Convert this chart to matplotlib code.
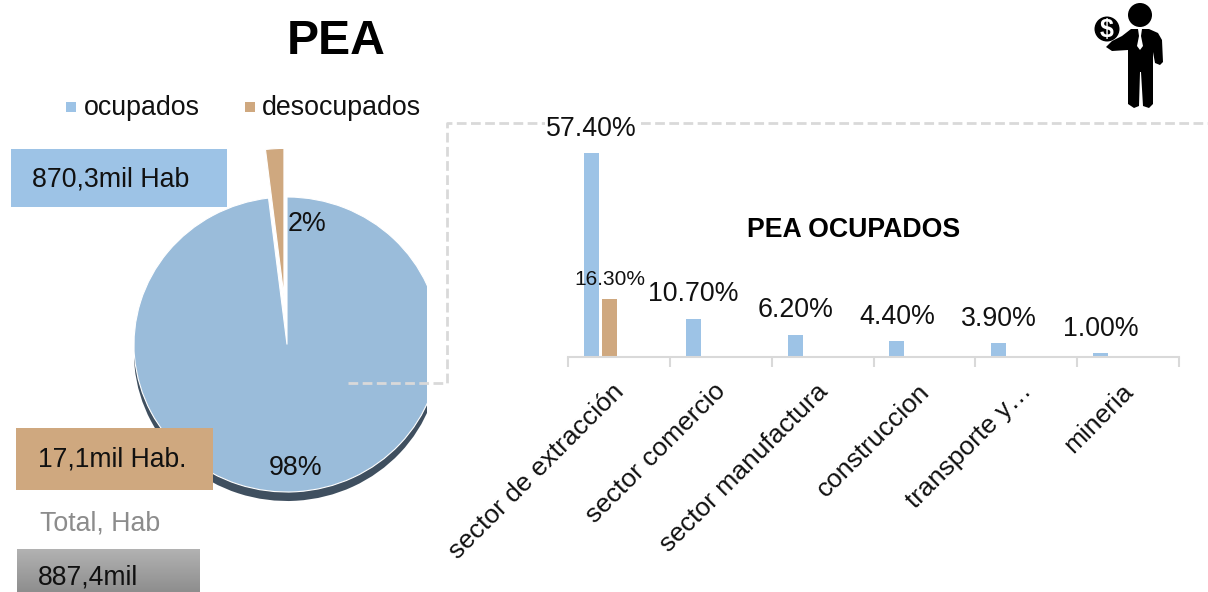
import numpy as np
import matplotlib
matplotlib.use('Agg')
import matplotlib.pyplot as plt
from matplotlib.colors import LinearSegmentedColormap
from matplotlib.patches import Circle, Polygon, Rectangle
from matplotlib.transforms import ScaledTranslation

plt.rcParams['font.family'] = ['Liberation Sans', 'DejaVu Sans']

# chart values
pie_names = ['ocupados', 'desocupados']
pie_values = [870.3, 17.1]
pie_labels = ['98%', '2%']

sectors = ['sector de extracción', 'sector comercio', 'sector manufactura',
           'construccion', 'transporte y…', 'mineria']
ocupados_pct = [57.4, 10.7, 6.2, 4.4, 3.9, 1.0]
desocupados_sector = [0]
desocupados_pct = [16.3]

BLUE = '#9dc3e6'
PIE_BLUE = '#9abcda'
TAN = '#cfa87f'
INK = '#111111'
WIDTH, HEIGHT = 1208, 592

fig = plt.figure(figsize=(WIDTH / 100, HEIGHT / 100), dpi=100, facecolor='white')


def px_axes(left, top, right, bottom):
    """Axes placed by pixel box (y measured from the top of the image)."""
    return fig.add_axes([left / WIDTH, 1 - bottom / HEIGHT,
                         (right - left) / WIDTH, (bottom - top) / HEIGHT])


# Pie, clipped on the right by its axes
ax_pie = px_axes(100, 140, 427, 510)
rx, ry = 153, 147.5
cx, cy = 287, 344.5
ax_pie.pie(pie_values, colors=['#3f4f5f', 'none'], explode=[0, 0.33], startangle=90,
           counterclock=False, center=(0, -9 / ry), frame=False,
           wedgeprops={'clip_on': True})
ax_pie.pie(pie_values, colors=[PIE_BLUE, TAN], explode=[0, 0.33], startangle=90,
           counterclock=False, frame=False,
           wedgeprops={'edgecolor': 'white', 'linewidth': 0.8, 'clip_on': True})
ax_pie.set_aspect('auto')
ax_pie.set_xlim((100 - cx) / rx, (427 - cx) / rx)
ax_pie.set_ylim((cy - 510) / ry, (cy - 140) / ry)
ax_pie.axis('off')

# Bars
ax_bar = px_axes(568, 140, 1179, 357)
ax_bar.set_zorder(6)
x = np.arange(len(sectors))
ax_bar.bar(x - 0.27, ocupados_pct, 0.147, color=BLUE)
ax_bar.bar(np.array(desocupados_sector) - 0.09, desocupados_pct, 0.147, color=TAN)
ax_bar.set_xlim(-0.5, 5.5)
ax_bar.set_ylim(0, 61.1)
ax_bar.patch.set_visible(False)
for side in ['top', 'left', 'right']:
    ax_bar.spines[side].set_visible(False)
ax_bar.spines['bottom'].set_color('#d9d9d9')
ax_bar.spines['bottom'].set_linewidth(1.5)
ax_bar.set_yticks([])
ax_bar.set_xticks(x)
ax_bar.set_xticklabels(sectors, rotation=45, ha='right', va='top',
                       rotation_mode='anchor', fontsize=19, color=INK)
ax_bar.tick_params(axis='x', which='major', length=0, pad=16)
shift = ScaledTranslation(-7 / 100, 0, fig.dpi_scale_trans)
for label in ax_bar.get_xticklabels():
    label.set_transform(label.get_transform() + shift)
ax_bar.set_xticks(np.arange(len(sectors) + 1) - 0.5, minor=True)
ax_bar.tick_params(axis='x', which='minor', length=7, width=1.5, color='#d9d9d9')

for xi, val in zip(x, ocupados_pct):
    # white backing interrupts the connector line behind the top label
    ax_bar.annotate(f'{val:.2f}%', (xi - 0.27, val), xytext=(0, 8.3),
                    textcoords='offset points', ha='center', va='bottom',
                    fontsize=19.3, color=INK, annotation_clip=False, zorder=6,
                    bbox={'facecolor': 'white', 'edgecolor': 'none', 'pad': 0.5})
for xi, val in zip(desocupados_sector, desocupados_pct):
    ax_bar.annotate(f'{val:.2f}%', (xi - 0.09, val), xytext=(0, 7.5),
                    textcoords='offset points', ha='center', va='bottom',
                    fontsize=15, color=INK, annotation_clip=False, zorder=6)

# Overlay in image pixels: title, legend, boxes, connector and icon
top = fig.add_axes([0, 0, 1, 1], zorder=5)
top.set_xlim(0, WIDTH)
top.set_ylim(HEIGHT, 0)
top.axis('off')

top.plot([348, 447, 447, WIDTH], [383, 383, 123, 123], color='#d9d9d9', lw=2,
         ls=(0, (3.5, 1.6)))

top.text(336, 41, 'PEA', fontsize=34.7, fontweight='bold', ha='center', va='center',
         color='black')
top.text(854, 230, 'PEA OCUPADOS', fontsize=19.2, fontweight='bold', ha='center',
         va='center', color='black')

# legend
top.add_patch(Rectangle((66, 102), 10, 10, color=BLUE, lw=0))
top.text(84, 108, pie_names[0], fontsize=19.3, va='center', color=INK)
top.add_patch(Rectangle((245, 102), 10, 10, color=TAN, lw=0))
top.text(262, 108, pie_names[1], fontsize=19.3, va='center', color=INK)

# pie labels
top.text(307, 224, pie_labels[1], fontsize=19.3, ha='center', va='center', color=INK)
top.text(296, 468, pie_labels[0], fontsize=19.3, ha='center', va='center', color=INK)

# value boxes
top.add_patch(Rectangle((11, 149), 216, 58, color=BLUE, lw=0))
top.text(32, 179, '870,3mil Hab', fontsize=19.3, va='center', color=INK)
top.add_patch(Rectangle((16, 428), 197, 62, color=TAN, lw=0))
top.text(38, 459, '17,1mil Hab.', fontsize=19.1, va='center', color=INK)
top.text(40, 523, 'Total, Hab', fontsize=19.3, va='center', color='#8c8c8c')
gradient = np.linspace(0, 1, 64).reshape(-1, 1)
top.imshow(gradient, extent=(17, 200, 592, 549),
           cmap=LinearSegmentedColormap.from_list('grey', ['#b2b2b2', '#8e8e8e']),
           aspect='auto', zorder=1)
top.set_xlim(0, WIDTH)
top.set_ylim(HEIGHT, 0)
top.text(38, 577, '887,4mil', fontsize=19.1, va='center', color=INK, zorder=2)

# man with coin icon
top.add_patch(Circle((1140, 15), 12, color='black', lw=0))
top.add_patch(Polygon([(1131, 29), (1149, 29), (1158, 33), (1162, 40), (1163, 62),
                       (1160, 65), (1155, 63), (1153, 52), (1153, 104), (1149, 108),
                       (1143, 106), (1141, 72), (1140, 72), (1139, 106), (1134, 108),
                       (1128, 104), (1128, 50), (1112, 51), (1106, 47), (1112, 41),
                       (1122, 36)], closed=True, color='black', lw=0))
top.add_patch(Circle((1107, 29), 12.5, color='black', lw=0))
top.text(1107, 30, '$', fontsize=18, fontweight='bold', color='white', ha='center',
         va='center')
top.add_patch(Polygon([(1138, 29), (1142, 29), (1141, 36), (1143, 46), (1140, 50),
                       (1137, 46), (1139, 36)], closed=True, color='white', lw=0))

fig.savefig('out.png', dpi=100)
